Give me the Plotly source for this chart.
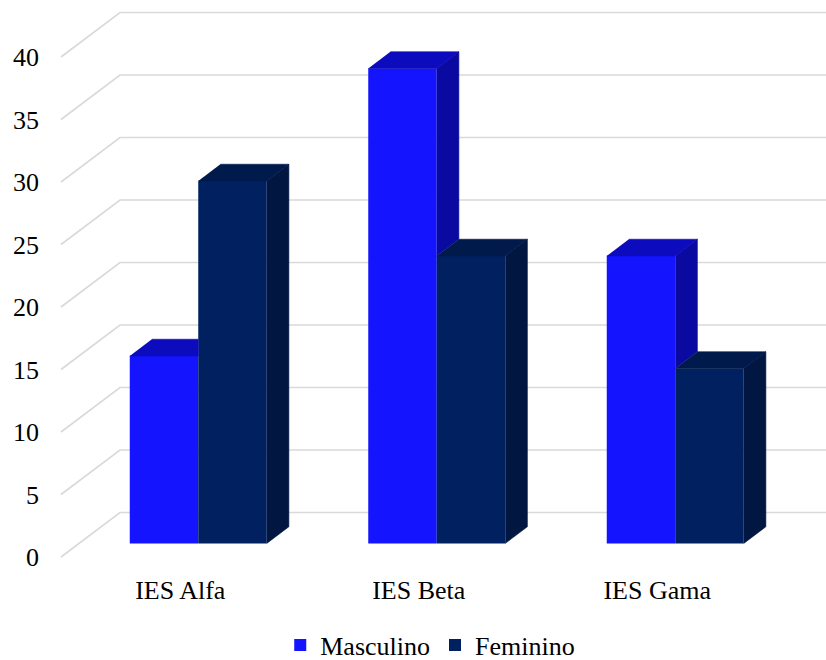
import plotly.graph_objects as go

# ---- data ----
categorias = ["IES Alfa", "IES Beta", "IES Gama"]
masculino = [15, 38, 23]
feminino = [29, 23, 14]
y_ticks = [0, 5, 10, 15, 20, 25, 30, 35, 40]

# ---- styling ----
COR_M = dict(front="#1414FF", top="#0C0CBE", side="#0A0AA0")
COR_F = dict(front="#012060", top="#011A4C", side="#011640")
GRID = "#D9D9D9"
FONT = "Liberation Serif, serif"
TXT = dict(family=FONT, size=26, color="#000000")

W, H = 826, 660
ML, MB = 50, 98
PX_PER_CAT = 238.5          # pixels per category slot
PX_PER_VAL = 12.5           # pixels per value unit
FRONT_LEFT_PX = 61          # left edge of the front category band
FRONT_ZERO_PX = 557         # pixel row of value 0 on the front plane

# oblique projection of the chart depth, in data units
WALL_DX = 59 / PX_PER_CAT
WALL_DY = 44.5 / PX_PER_VAL
BAR_FRONT = 0.305           # depth fraction where the bar fronts sit
BAR_DEPTH = 0.375           # depth fraction occupied by the bars
BAR_W = 68.5 / PX_PER_CAT

x_lo = -0.5 - (FRONT_LEFT_PX - ML) / PX_PER_CAT
x_hi = x_lo + (W - ML) / PX_PER_CAT
y_lo = -((H - MB) - FRONT_ZERO_PX) / PX_PER_VAL
y_hi = y_lo + (H - MB) / PX_PER_VAL

off_x = BAR_FRONT * WALL_DX
base = BAR_FRONT * WALL_DY
dx = BAR_DEPTH * WALL_DX
dy = BAR_DEPTH * WALL_DY
xs = [i + off_x for i in range(len(categorias))]

fig = go.Figure()

# front faces
fig.add_trace(go.Bar(name="Masculino", x=xs, y=masculino, base=base,
                     width=BAR_W, offset=-BAR_W,
                     marker=dict(color=COR_M["front"], line=dict(width=0))))
fig.add_trace(go.Bar(name="Feminino", x=xs, y=feminino, base=base,
                     width=BAR_W, offset=0,
                     marker=dict(color=COR_F["front"], line=dict(width=0))))


def face(pts, color):
    fig.add_trace(go.Scatter(
        x=[p[0] for p in pts], y=[p[1] for p in pts],
        mode="lines", fill="toself", fillcolor=color,
        line=dict(color=color, width=0.6),
        hoverinfo="skip", showlegend=False))


# top and side faces, with the hidden parts trimmed away
for i, (m, f) in enumerate(zip(masculino, feminino)):
    x1 = xs[i]
    x0 = x1 - BAR_W
    x2 = x1 + BAR_W
    hm = base + m
    hf = base + f
    if f >= m:
        face([(x0, hm), (x1, hm), (x1, hm + dy), (x0 + dx, hm + dy)], COR_M["top"])
    else:
        face([(x1, hf), (x1 + dx, hf + dy), (x1 + dx, hm + dy), (x1, hm)], COR_M["side"])
        face([(x0, hm), (x1, hm), (x1 + dx, hm + dy), (x0 + dx, hm + dy)], COR_M["top"])
    face([(x2, base), (x2 + dx, base + dy), (x2 + dx, hf + dy), (x2, hf)], COR_F["side"])
    face([(x1, hf), (x2, hf), (x2 + dx, hf + dy), (x1 + dx, hf + dy)], COR_F["top"])

# gridlines on the side and back walls
shapes = []
for t in y_ticks:
    shapes.append(dict(
        type="path", xref="x", yref="y", layer="below",
        path=f"M{-0.5},{t} L{-0.5 + WALL_DX},{t + WALL_DY} L{x_hi},{t + WALL_DY}",
        line=dict(color=GRID, width=1.6)))

fig.update_layout(
    width=W, height=H,
    margin=dict(l=ML, r=0, t=0, b=MB, autoexpand=False),
    paper_bgcolor="white", plot_bgcolor="white",
    barmode="overlay",
    shapes=shapes,
    font=TXT,
    xaxis=dict(range=[x_lo, x_hi], tickvals=list(range(len(categorias))),
               ticktext=categorias, tickfont=TXT, showgrid=False, zeroline=False,
               showline=False, ticks="", ticklabelstandoff=10, fixedrange=True),
    yaxis=dict(range=[y_lo, y_hi], tickvals=y_ticks, tickfont=TXT, showgrid=False,
               zeroline=False, showline=False, ticks="",
               ticklabelstandoff=10, fixedrange=True),
    legend=dict(orientation="h", x=0.49, xanchor="center", y=-0.1477,
                yanchor="middle", font=TXT, bgcolor="rgba(0,0,0,0)"),
    showlegend=True,
)

fig.write_html("out.html")
